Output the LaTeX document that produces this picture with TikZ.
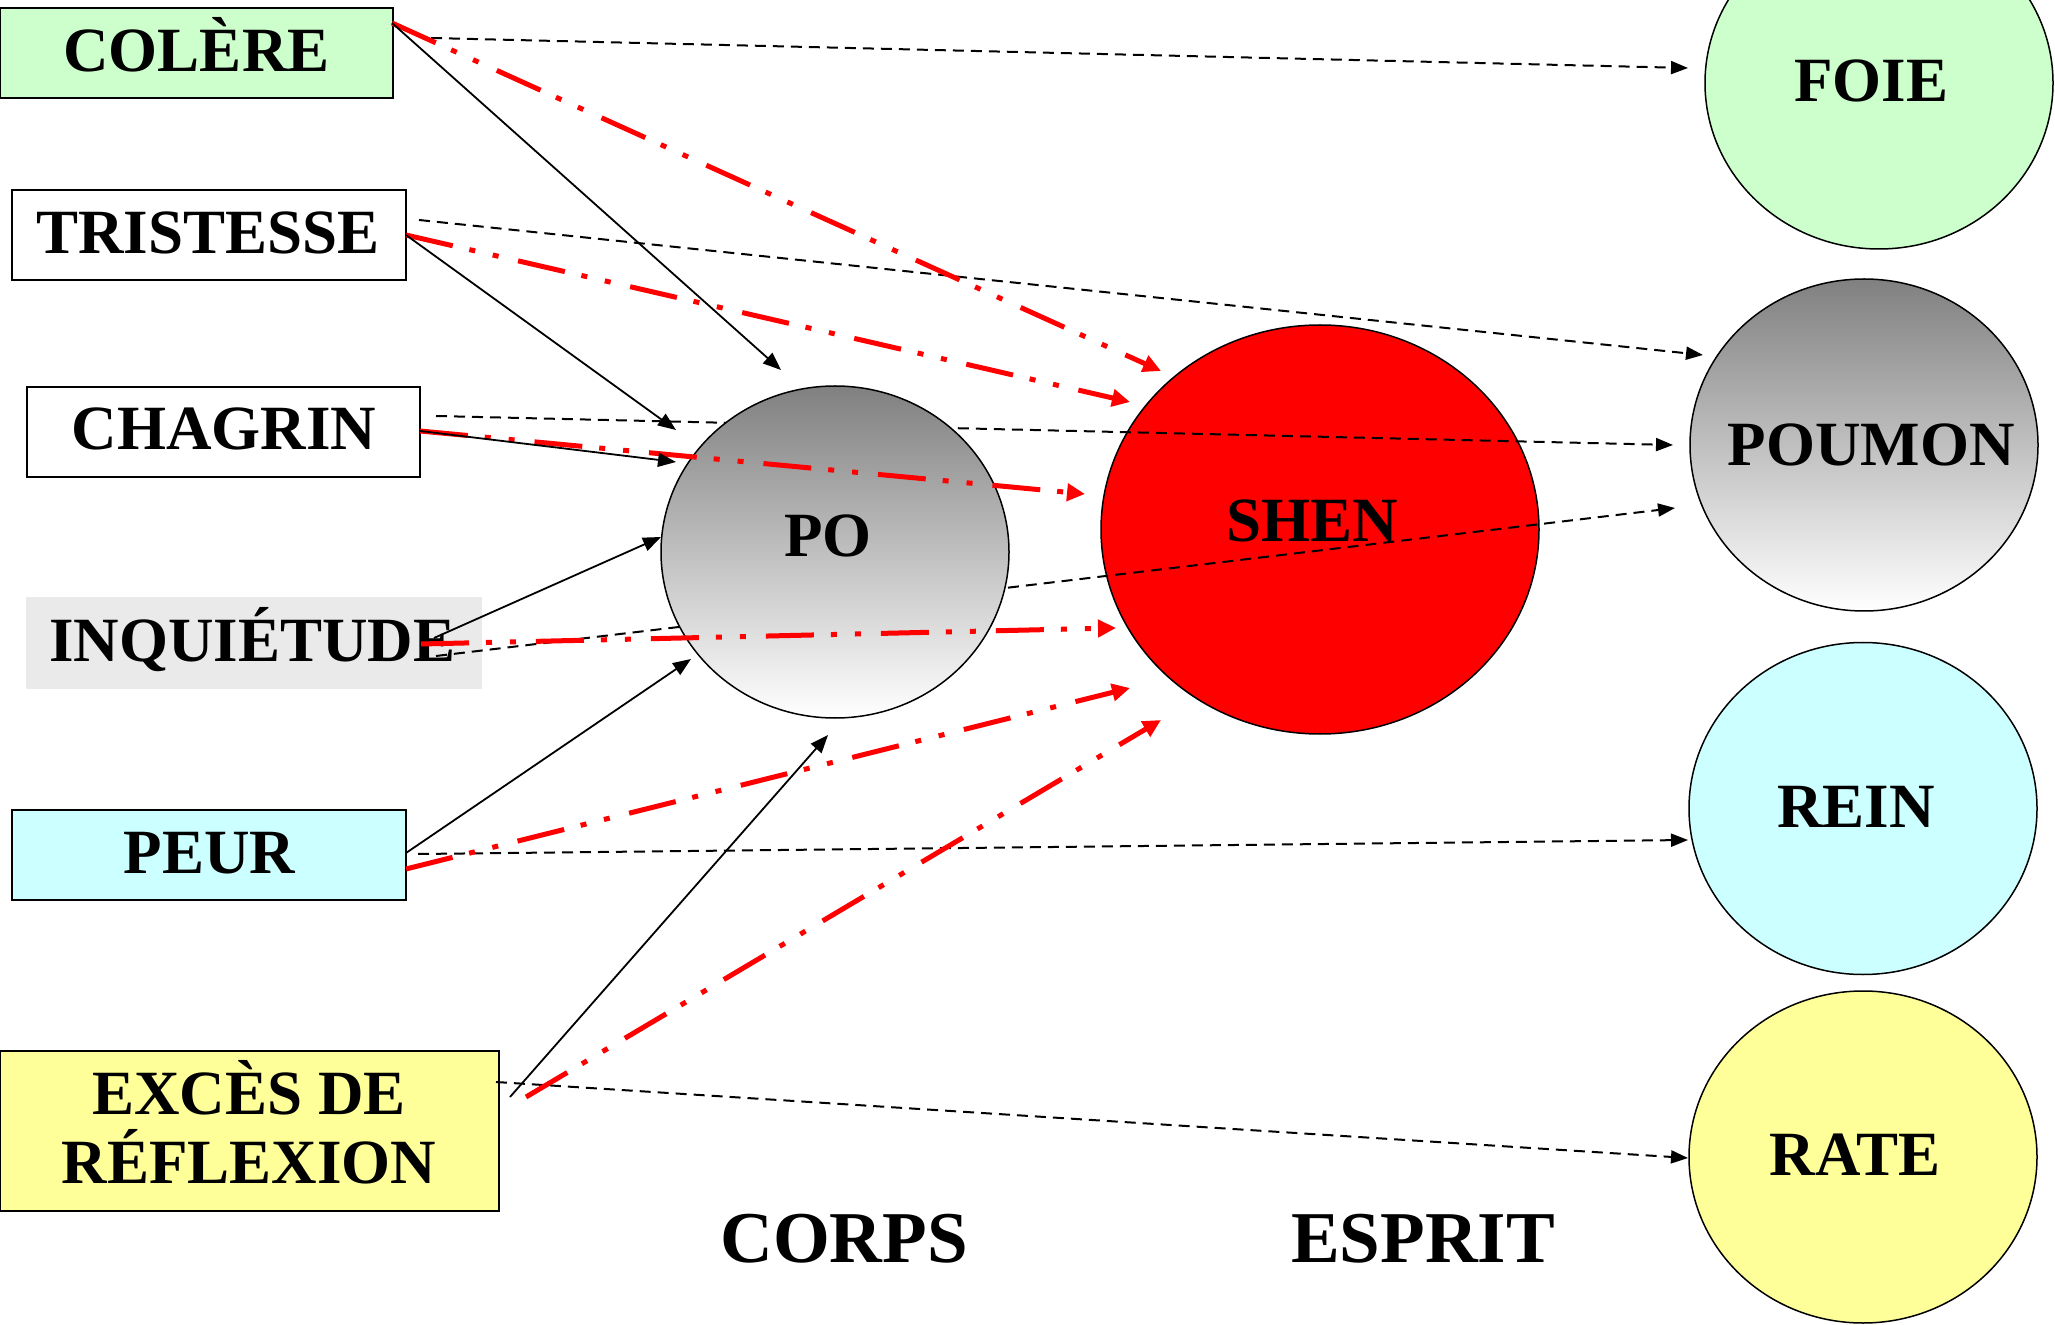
\documentclass[tikz,border=0pt]{standalone}
\usepackage{fontspec}
\setmainfont{Liberation Serif}
\usetikzlibrary{arrows.meta,shapes.geometric}
\definecolor{cgreen}{HTML}{CCFFCC}
\definecolor{ccyan}{HTML}{CCFFFF}
\definecolor{cyellow}{HTML}{FFFF99}
\definecolor{cgrayb}{HTML}{EAEAEA}
\definecolor{cgraytop}{HTML}{808080}
\definecolor{cred}{HTML}{FF0000}
\newcommand{\mylblfont}{\fontsize{31.5}{33}\selectfont\bfseries}
\newcommand{\myttlfont}{\fontsize{36.5}{38}\selectfont\bfseries}
\begin{document}
\begin{tikzpicture}[x=0.5pt,y=-0.5pt,
  box/.style={draw=black, line width=0.9pt, rectangle, inner sep=0pt, font=\mylblfont, text height=20.9pt, text depth=0pt},
  organ/.style={draw=black, line width=0.75pt, ellipse, inner sep=0pt, minimum width=174pt, minimum height=166pt},
  lbl/.style={font=\mylblfont, inner sep=0pt, text height=20.9pt, text depth=0pt},
  ttl/.style={font=\myttlfont, inner sep=0pt, text height=24.2pt, text depth=0pt},
  emo/.style={-{Triangle[length=9pt,width=7pt]}, line width=0.9pt},
  org/.style={-{Triangle[length=8.5pt,width=6.5pt]}, line width=1pt, dash pattern=on 5.5pt off 3.5pt},
  spirit/.style={-{Triangle[length=9pt,width=8.5pt]}, line width=2.5pt, draw=cred, dash pattern=on 24pt off 8.5pt on 3pt off 9pt on 3pt off 10pt}
]
\useasboundingbox (0,0) rectangle (2055,1325);
\fill[white] (0,0) rectangle (2055,1325);

% emotion boxes
\node[box, fill=cgreen, minimum width=196.5pt, minimum height=45pt] (colere) at (196.5,53) {};
\node[box, fill=white, minimum width=197pt, minimum height=45pt] (tristesse) at (209,235) {};
\node[box, fill=white, minimum width=196.5pt, minimum height=45pt] (chagrin) at (223.5,432) {};
\node[box, draw=none, fill=cgrayb, minimum width=228pt, minimum height=46pt] (inquietude) at (254,643) {};
\node[box, fill=ccyan, minimum width=197pt, minimum height=45pt] (peur) at (209,855) {};
\node[box, fill=cyellow, minimum width=249.5pt, minimum height=80pt] (exces) at (249.5,1131) {};

% box texts
\node[lbl] (colereL) at (196.5,50.5) {COLÈRE};
\node[lbl] (tristesseL) at (208,233) {TRISTESSE};
\node[lbl] (chagrinL) at (224,429) {CHAGRIN};
\node[lbl] (inquietudeL) at (252.5,641) {INQUIÉTUDE};
\node[lbl] (peurL) at (209.5,853) {PEUR};
\node[lbl] (excesLa) at (249,1094) {EXCÈS DE};
\node[lbl] (excesLb) at (249,1163) {RÉFLEXION};

% SHEN and organs
\node[organ, fill=cred, minimum width=219pt, minimum height=204.5pt] (shen) at (1320,529.5) {};
\node[organ, fill=cgreen] (foie) at (1879,83) {};
\node[organ, top color=cgraytop, bottom color=white] (poumon) at (1864,445) {};
\node[organ, fill=ccyan] (rein) at (1863,808.5) {};
\node[organ, fill=cyellow] (rate) at (1863,1157) {};

% connector end points
\coordinate (colA) at (392,23);
\coordinate (colB) at (431,38);
\coordinate (triA) at (406,235);
\coordinate (triB) at (419,220);
\coordinate (chaA) at (420,431);
\coordinate (chaB) at (436,416);
\coordinate (inqA) at (434,638);
\coordinate (inqR) at (421,644);
\coordinate (inqB) at (436,656);
\coordinate (peuA) at (406,853);
\coordinate (peuR) at (406,869);
\coordinate (peuB) at (418,854);
\coordinate (excA) at (510,1097);
\coordinate (excR) at (526,1097);
\coordinate (excB) at (496,1082);

\coordinate (po1) at (781,370);
\coordinate (po2) at (676,430);
\coordinate (po3) at (676,462);
\coordinate (po4) at (661,537);
\coordinate (po5) at (691,659);
\coordinate (po6) at (828,735);

\coordinate (sh1) at (1161,371);
\coordinate (sh2) at (1130,402);
\coordinate (sh3) at (1085,494);
\coordinate (sh4) at (1116,628);
\coordinate (sh5) at (1130,688);
\coordinate (sh6) at (1161,720);

\coordinate (foieIn) at (1688,68);
\coordinate (poumonInA) at (1703,355);
\coordinate (poumonInB) at (1673,445);
\coordinate (poumonInC) at (1675,508);
\coordinate (reinIn) at (1688,840);
\coordinate (rateIn) at (1688,1158);

% dashed connectors to organs
\draw[org] (colB) -- (foieIn);
\draw[org] (triB) -- (poumonInA);
\draw[org] (chaB) -- (poumonInB);
\draw[org] (inqB) -- (poumonInC);
\draw[org] (peuB) -- (reinIn);
\draw[org] (excB) -- (rateIn);

% PO
\node[organ, top color=cgraytop, bottom color=white] (po) at (835,552) {};

% red connectors to SHEN
\draw[spirit] (colA) -- (sh1);
\draw[spirit] (triA) -- (sh2);
\draw[spirit] (chaA) -- (sh3);
\draw[spirit] (inqR) -- (sh4);
\draw[spirit] (peuR) -- (sh5);
\draw[spirit] (excR) -- (sh6);

% black connectors to PO
\draw[emo] (colA) -- (po1);
\draw[emo] (triA) -- (po2);
\draw[emo] (chaA) -- (po3);
\draw[emo] (inqA) -- (po4);
\draw[emo] (peuA) -- (po5);
\draw[emo] (excA) -- (po6);

% labels
\node[lbl] (poL) at (828,536) {PO};
\node[lbl] (shenL) at (1312,521) {SHEN};
\node[lbl] (foieL) at (1871,81) {FOIE};
\node[lbl] (poumonL) at (1871,445) {POUMON};
\node[lbl] (reinL) at (1856,807) {REIN};
\node[lbl] (rateL) at (1855,1155) {RATE};
\node[ttl] (corps) at (844,1238) {CORPS};
\node[ttl] (esprit) at (1423,1238) {ESPRIT};
\end{tikzpicture}
\end{document}
